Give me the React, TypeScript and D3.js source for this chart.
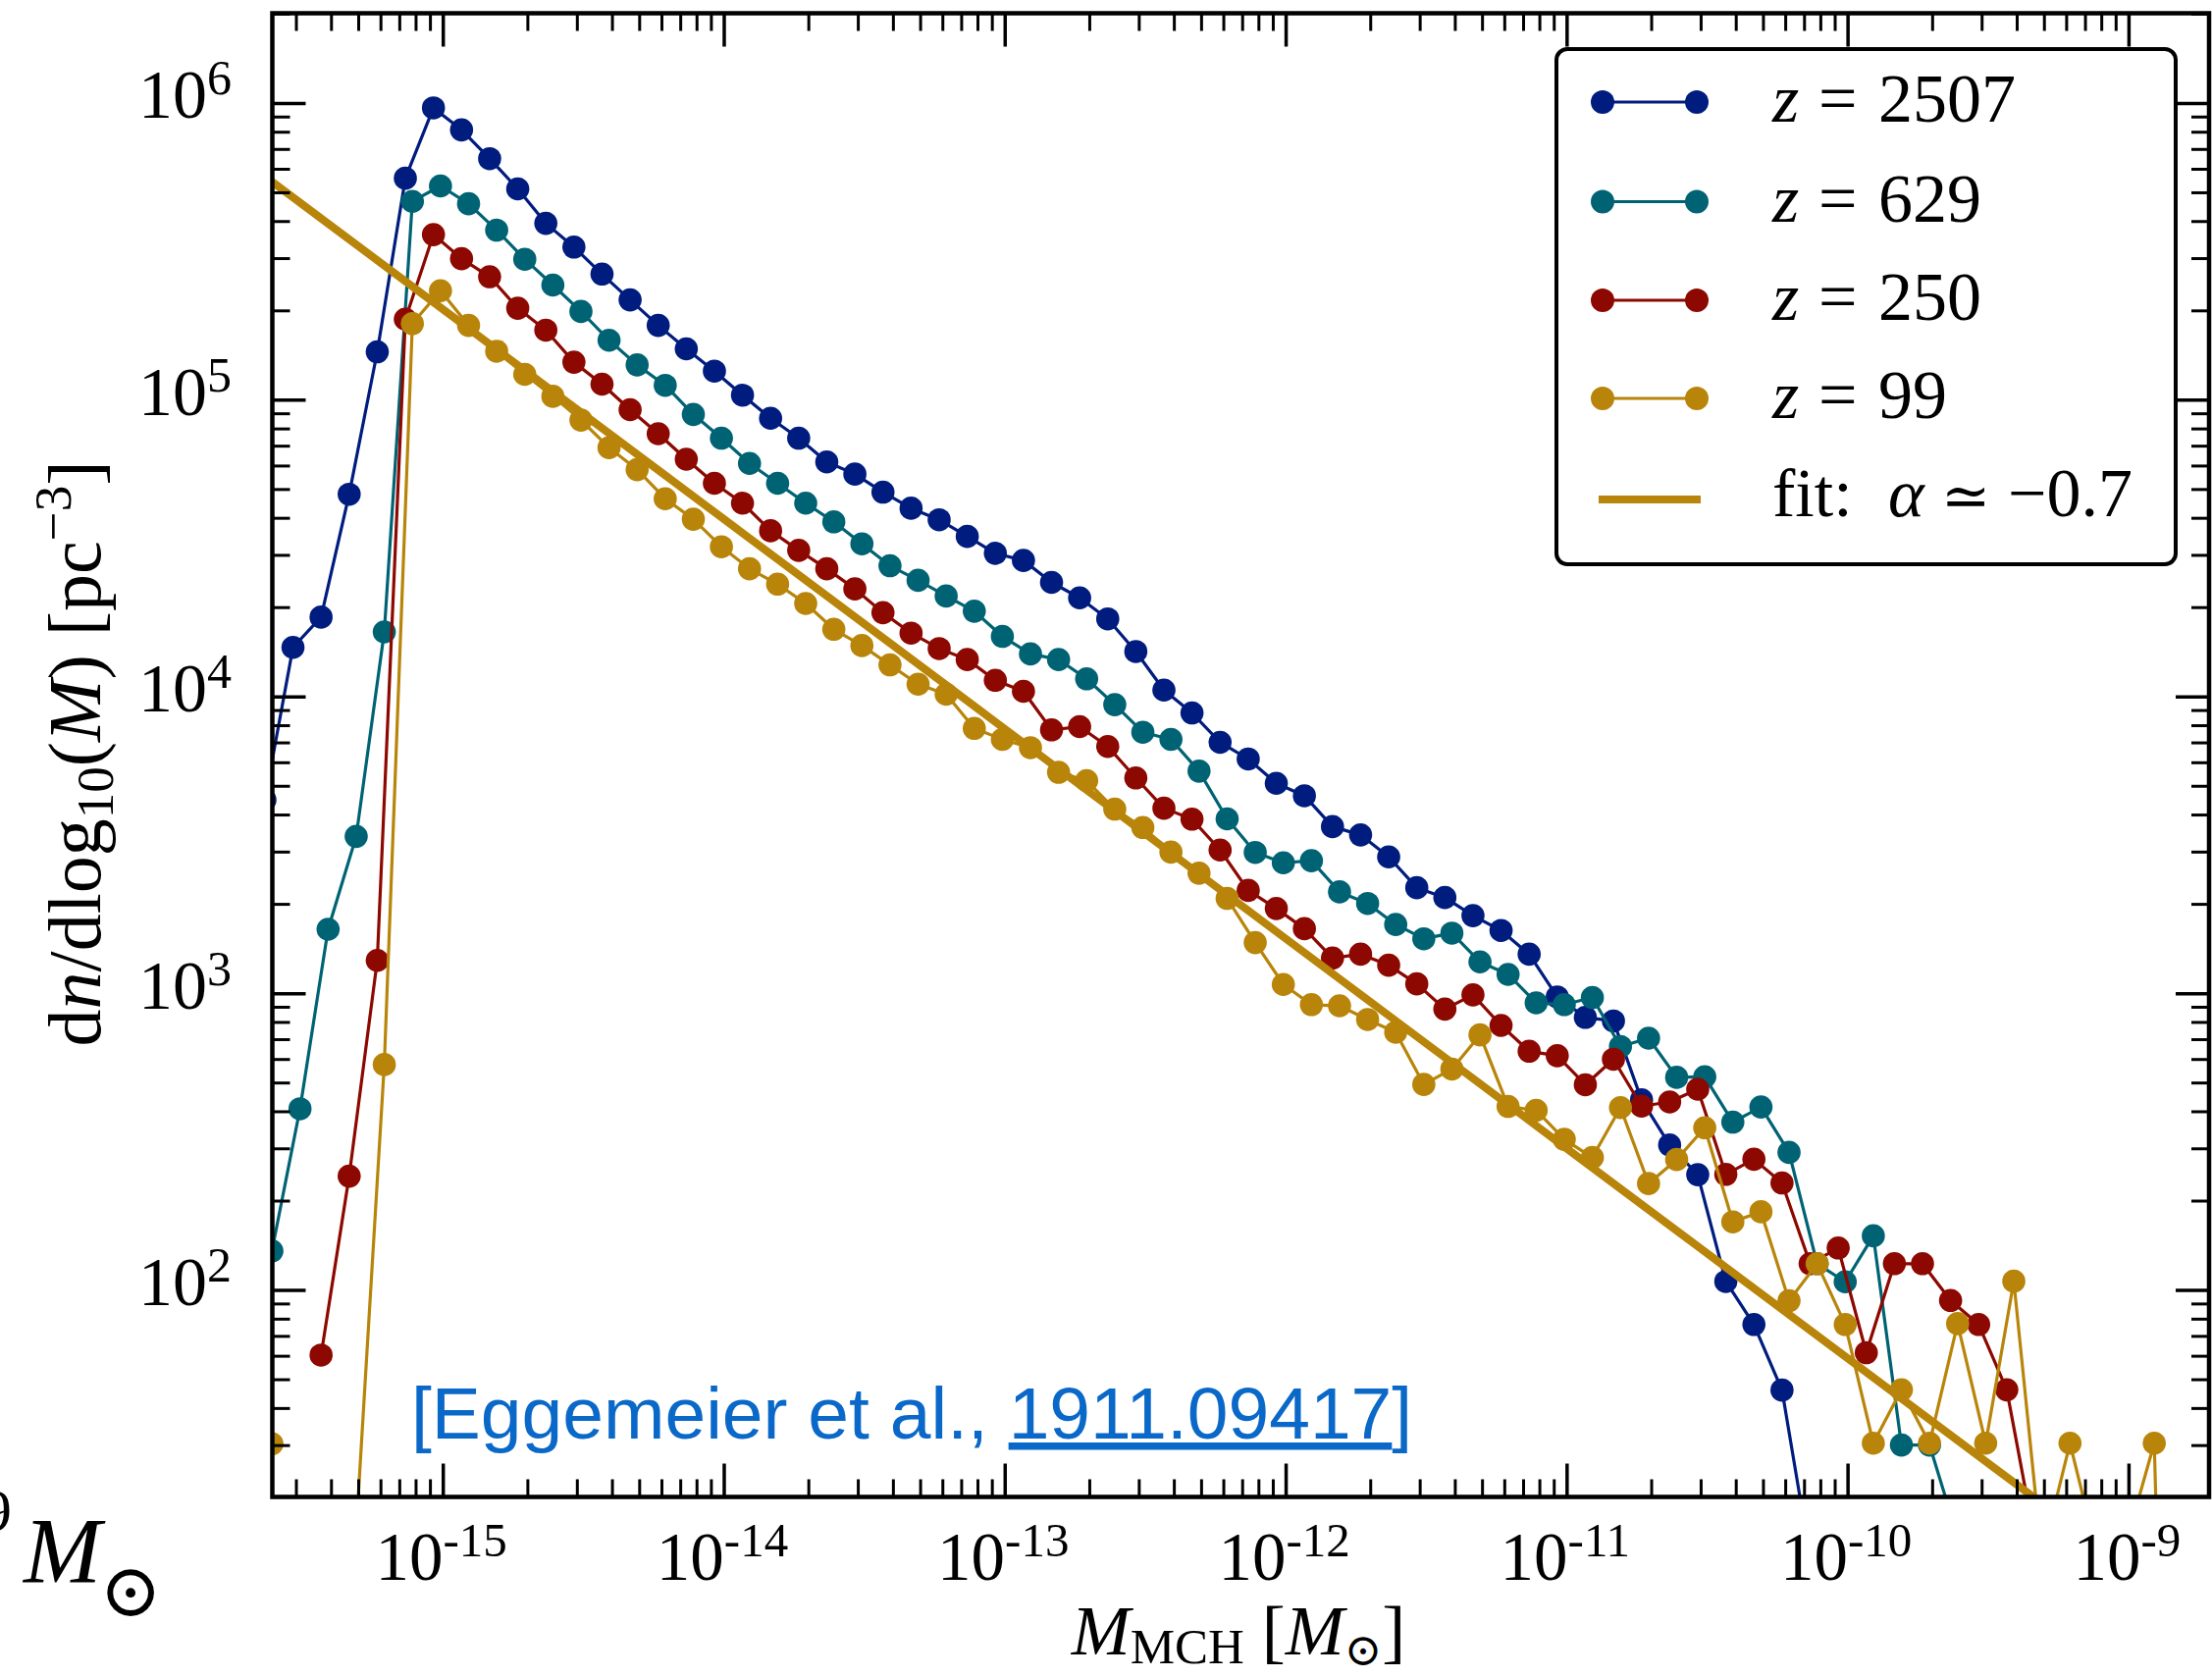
import React from 'react';
import * as d3 from 'd3';

// ---------- data (log10 of mass bin centres, and log10 of dn/dlog10 M) ----------
const logMassA = [
  -15.635, -15.535, -15.435, -15.335, -15.235, -15.135, -15.035, -14.935, -14.835, -14.735,
  -14.635, -14.535, -14.435, -14.335, -14.235, -14.135, -14.035, -13.935, -13.835, -13.735,
  -13.635, -13.535, -13.435, -13.335, -13.235, -13.135, -13.035, -12.935, -12.835, -12.735,
  -12.635, -12.535, -12.435, -12.335, -12.235, -12.135, -12.035, -11.935, -11.835, -11.735,
  -11.635, -11.535, -11.435, -11.335, -11.235, -11.135, -11.035, -10.935, -10.835, -10.735,
  -10.635, -10.535, -10.435, -10.335, -10.235, -10.135, -10.035, -9.935, -9.835, -9.735,
  -9.635, -9.535, -9.435, -9.335,
];
const logMassB = [
  -15.61, -15.51, -15.41, -15.31, -15.21, -15.11, -15.01, -14.91, -14.81, -14.71,
  -14.61, -14.51, -14.41, -14.31, -14.21, -14.11, -14.01, -13.91, -13.81, -13.71,
  -13.61, -13.51, -13.41, -13.31, -13.21, -13.11, -13.01, -12.91, -12.81, -12.71,
  -12.61, -12.51, -12.41, -12.31, -12.21, -12.11, -12.01, -11.91, -11.81, -11.71,
  -11.61, -11.51, -11.41, -11.31, -11.21, -11.11, -11.01, -10.91, -10.81, -10.71,
  -10.61, -10.51, -10.41, -10.31, -10.21, -10.11, -10.01, -9.91, -9.81, -9.71,
  -9.61, -9.51, -9.41, -9.31, -9.21, -9.11, -9.01, -8.91, -8.81,
];

const z2507 = [
  3.653, 4.167, 4.269, 4.683, 5.163, 5.748, 5.985, 5.911, 5.814, 5.712,
  5.596, 5.516, 5.425, 5.338, 5.252, 5.173, 5.098, 5.017, 4.939, 4.872,
  4.792, 4.751, 4.690, 4.636, 4.597, 4.541, 4.484, 4.460, 4.386, 4.334,
  4.263, 4.153, 4.023, 3.946, 3.847, 3.791, 3.709, 3.667, 3.563, 3.535,
  3.461, 3.357, 3.324, 3.263, 3.213, 3.133, 2.989, 2.920, 2.908, 2.642,
  2.490, 2.390, 2.030, 1.885, 1.664, 1.100,
];
const z629 = [
  2.133, 2.612, 3.217, 3.530, 4.219, 5.670, 5.722, 5.662, 5.573, 5.475,
  5.388, 5.299, 5.202, 5.119, 5.050, 4.952, 4.872, 4.787, 4.720, 4.653,
  4.590, 4.516, 4.442, 4.393, 4.340, 4.289, 4.204, 4.145, 4.126, 4.061,
  3.974, 3.881, 3.857, 3.750, 3.589, 3.476, 3.441, 3.448, 3.343, 3.304,
  3.233, 3.185, 3.204, 3.107, 3.065, 2.969, 2.963, 2.987, 2.822, 2.850,
  2.718, 2.720, 2.567, 2.618, 2.465, 2.090, 2.029, 2.184, 1.479, 1.479,
  1.170,
];
const z250 = [
  null, null, 1.782, 2.385, 3.112, 5.273, 5.558, 5.477, 5.416, 5.310,
  5.236, 5.128, 5.054, 4.968, 4.887, 4.801, 4.720, 4.653, 4.560, 4.494,
  4.432, 4.364, 4.284, 4.215, 4.163, 4.126, 4.056, 4.019, 3.889, 3.900,
  3.833, 3.727, 3.625, 3.588, 3.484, 3.348, 3.287, 3.219, 3.120, 3.133,
  3.096, 3.033, 2.948, 2.996, 2.893, 2.806, 2.791, 2.693, 2.779, 2.621,
  2.635, 2.678, 2.391, 2.442, 2.362, 2.090, 2.143, 1.790, 2.090, 2.090,
  1.966, 1.885, 1.665, 1.160,
];
const z99 = [
  1.483, null, null, 1.190, 2.761, 5.258, 5.369, 5.252, 5.165, 5.087,
  5.013, 4.933, 4.840, 4.766, 4.668, 4.599, 4.506, 4.432, 4.380, 4.315,
  4.228, 4.173, 4.108, 4.043, 4.009, 3.894, 3.857, 3.829, 3.746, 3.718,
  3.622, 3.560, 3.477, 3.406, 3.321, 3.172, 3.031, 2.963, 2.959, 2.913,
  2.870, 2.694, 2.746, 2.861, 2.620, 2.607, 2.509, 2.448, 2.616, 2.360,
  2.441, 2.548, 2.231, 2.265, 1.965, 2.090, 1.885, 1.485, 1.665, 1.485,
  1.888, 1.485, 2.031, 1.100, 1.485, 1.100, 1.150, 1.485, -2.000,
];

// power-law fit: dn/dlogM = fitNorm * (M / 1e-15)^fitAlpha
const fitAlpha = -0.707;
const fitNorm = 2.02e5;
const fitRange = [1e-16, 1e-8];

const legendLabels = ['2507', '629', '250', '99'];
const xTickExps = [-15, -14, -13, -12, -11, -10, -9];
const yTickExps = [2, 3, 4, 5, 6];

// ---------- layout ----------
const W = 2254;
const H = 1709;
const P = { left: 277.5, right: 2251, top: 13.5, bottom: 1525.5 };
const SERIF = '"Liberation Serif", "DejaVu Serif", serif';
const SYM = '"DejaVu Serif", "DejaVu Sans", serif';

const x = d3.scaleLog().domain([Math.pow(10, -15.6085), Math.pow(10, -8.715)]).range([P.left, P.right]);
const y = d3.scaleLog().domain([Math.pow(10, 1.304), Math.pow(10, 6.304)]).range([P.bottom, P.top]);

const series = [
  { label: legendLabels[0], color: '#001c7f', logM: logMassA, vals: z2507 },
  { label: legendLabels[1], color: '#006374', logM: logMassB, vals: z629 },
  { label: legendLabels[2], color: '#8c0800', logM: logMassA, vals: z250 },
  { label: legendLabels[3], color: '#b8850a', logM: logMassB, vals: z99 },
];

type Pt = { m: number; v: number | null };

const lineGen = d3
  .line<Pt>()
  .defined((d) => d.v !== null)
  .x((d) => x(d.m))
  .y((d) => y(d.v as number));

function minorTicks(lo: number, hi: number, dom: [number, number]) {
  const out: number[] = [];
  for (let e = lo; e <= hi; e++) {
    for (let k = 2; k <= 9; k++) {
      const v = k * Math.pow(10, e);
      if (v > dom[0] && v < dom[1]) out.push(v);
    }
  }
  return out;
}

export default function App() {
  const xDom = x.domain() as [number, number];
  const yDom = y.domain() as [number, number];
  const xMinor = minorTicks(-16, -9, xDom);
  const yMinor = minorTicks(1, 6, yDom);
  const MAJ = 34;
  const MIN = 18;

  const fitPts: Pt[] = d3.range(0, 41).map((i) => {
    const lm = Math.log10(fitRange[0]) + (i / 40) * (Math.log10(fitRange[1]) - Math.log10(fitRange[0]));
    const m = Math.pow(10, lm);
    return { m, v: fitNorm * Math.pow(m / 1e-15, fitAlpha) };
  });
  const fitLine = d3
    .line<Pt>()
    .x((d) => x(d.m))
    .y((d) => y(d.v as number));

  const legendRows = [104, 205.5, 306, 406];

  return (
    <svg width={W} height={H} style={{ position: 'absolute', left: 0, top: 0, background: '#fff' }}>
      <rect x={0} y={0} width={W} height={H} fill="#fff" />
      <defs>
        <clipPath id="plotClip">
          <rect x={P.left} y={P.top} width={P.right - P.left} height={P.bottom - P.top} />
        </clipPath>
      </defs>

      <g clipPath="url(#plotClip)">
        {series.map((s) => {
          const pts: Pt[] = s.vals.map((v, i) => ({ m: Math.pow(10, s.logM[i]), v: v === null ? null : Math.pow(10, v) }));
          return (
            <g key={s.label}>
              <path d={lineGen(pts) || ''} fill="none" stroke={s.color} strokeWidth={3.2} strokeLinejoin="round" />
              {pts
                .filter((p) => p.v !== null)
                .map((p, i) => (
                  <circle key={i} cx={x(p.m)} cy={y(p.v as number)} r={11.8} fill={s.color} />
                ))}
            </g>
          );
        })}
        <path d={fitLine(fitPts) || ''} fill="none" stroke="#b8850a" strokeWidth={8} />
      </g>

      {/* frame */}
      <rect x={P.left} y={P.top} width={P.right - P.left} height={P.bottom - P.top} fill="none" stroke="#000" strokeWidth={4.5} />

      {/* x ticks */}
      {xTickExps.map((e) => {
        const xx = x(Math.pow(10, e));
        return (
          <g key={'xM' + e}>
            <line x1={xx} x2={xx} y1={P.bottom} y2={P.bottom - MAJ} stroke="#000" strokeWidth={3.5} />
            <line x1={xx} x2={xx} y1={P.top} y2={P.top + MAJ} stroke="#000" strokeWidth={3.5} />
            <text x={xx - 2} y={1610} textAnchor="middle" fontFamily={SERIF} fontSize={69} fill="#000">
              10
              <tspan fontSize={49} dy={-24}>
                {'-' + String(-e)}
              </tspan>
            </text>
          </g>
        );
      })}
      {xMinor.map((v, i) => {
        const xx = x(v);
        return (
          <g key={'xm' + i}>
            <line x1={xx} x2={xx} y1={P.bottom} y2={P.bottom - MIN} stroke="#000" strokeWidth={3} />
            <line x1={xx} x2={xx} y1={P.top} y2={P.top + MIN} stroke="#000" strokeWidth={3} />
          </g>
        );
      })}

      {/* y ticks */}
      {yTickExps.map((e) => {
        const yy = y(Math.pow(10, e));
        return (
          <g key={'yM' + e}>
            <line x1={P.left} x2={P.left + MAJ} y1={yy} y2={yy} stroke="#000" strokeWidth={3.5} />
            <line x1={P.right} x2={P.right - MAJ} y1={yy} y2={yy} stroke="#000" strokeWidth={3.5} />
            <text x={236} y={yy + 15} textAnchor="end" fontFamily={SERIF} fontSize={70} fill="#000">
              10
              <tspan fontSize={50} dy={-24}>
                {String(e)}
              </tspan>
            </text>
          </g>
        );
      })}
      {yMinor.map((v, i) => {
        const yy = y(v);
        return (
          <g key={'ym' + i}>
            <line x1={P.left} x2={P.left + MIN} y1={yy} y2={yy} stroke="#000" strokeWidth={3} />
            <line x1={P.right} x2={P.right - MIN} y1={yy} y2={yy} stroke="#000" strokeWidth={3} />
          </g>
        );
      })}

      {/* axis labels */}
      <text transform="translate(102,768) rotate(-90)" textAnchor="middle" fontFamily={SERIF} fontSize={76} fill="#000">
        d<tspan fontStyle="italic">n</tspan>/dlog
        <tspan fontSize={53} dy={13}>10</tspan>
        <tspan dy={-13}>(</tspan>
        <tspan fontStyle="italic">M</tspan>) [pc
        <tspan fontSize={53} dy={-30}>−3</tspan>
        <tspan dy={30}>]</tspan>
      </text>

      <text x={1262} y={1686} textAnchor="middle" fontFamily={SERIF} fontSize={72} fill="#000">
        <tspan fontStyle="italic">M</tspan>
        <tspan fontSize={51} dy={9}>MCH</tspan>
        <tspan dy={-9}> [</tspan>
        <tspan fontStyle="italic">M</tspan>
        <tspan fontFamily={SYM} fontSize={46} dy={11}>⊙</tspan>
        <tspan dy={-11}>]</tspan>
      </text>

      {/* citation */}
      <text x={419} y={1466} fontFamily='"Liberation Sans", Arial, sans-serif' fontSize={75} fill="#0a68c8">
        [Eggemeier et al.,{' '}
        <tspan style={{ textDecoration: 'underline' }}>1911.09417</tspan>]
      </text>

      {/* legend */}
      <rect x={1586} y={50} width={631} height={525} rx={11} ry={11} fill="#fff" stroke="#000" strokeWidth={4} />
      {series.map((s, i) => {
        const ry = legendRows[i];
        return (
          <g key={'lg' + s.label}>
            <line x1={1633} x2={1729} y1={ry} y2={ry} stroke={s.color} strokeWidth={3.2} />
            <circle cx={1633} cy={ry} r={12} fill={s.color} />
            <circle cx={1729} cy={ry} r={12} fill={s.color} />
            <text y={ry + 20} fontFamily={SERIF} fontSize={70} fill="#000">
              <tspan x={1806} fontStyle="italic">z</tspan>
              <tspan x={1853}>=</tspan>
              <tspan x={1914}>{s.label}</tspan>
            </text>
          </g>
        );
      })}
      <line x1={1629} x2={1733} y1={509} y2={509} stroke="#b8850a" strokeWidth={8} />
      <text y={526} fontFamily={SERIF} fontSize={70} fill="#000">
        <tspan x={1806}>fit:</tspan>
        <tspan x={1924} fontStyle="italic">α</tspan>
        <tspan x={1978} fontFamily={SYM} fontSize={60}>≃</tspan>
        <tspan x={2046}>−0.7</tspan>
      </text>

      {/* fragment of neighbouring slide text at bottom-left */}
      <text x={12} y={1560} textAnchor="end" fontFamily={SERIF} fontSize={62} fill="#000">9</text>
      <text x={24} y={1613} fontFamily={SERIF} fontStyle="italic" fontSize={95} fill="#000">M</text>
      <text x={133} y={1647} textAnchor="middle" fontFamily={SYM} fontSize={76} fill="#000">⊙</text>
    </svg>
  );
}
